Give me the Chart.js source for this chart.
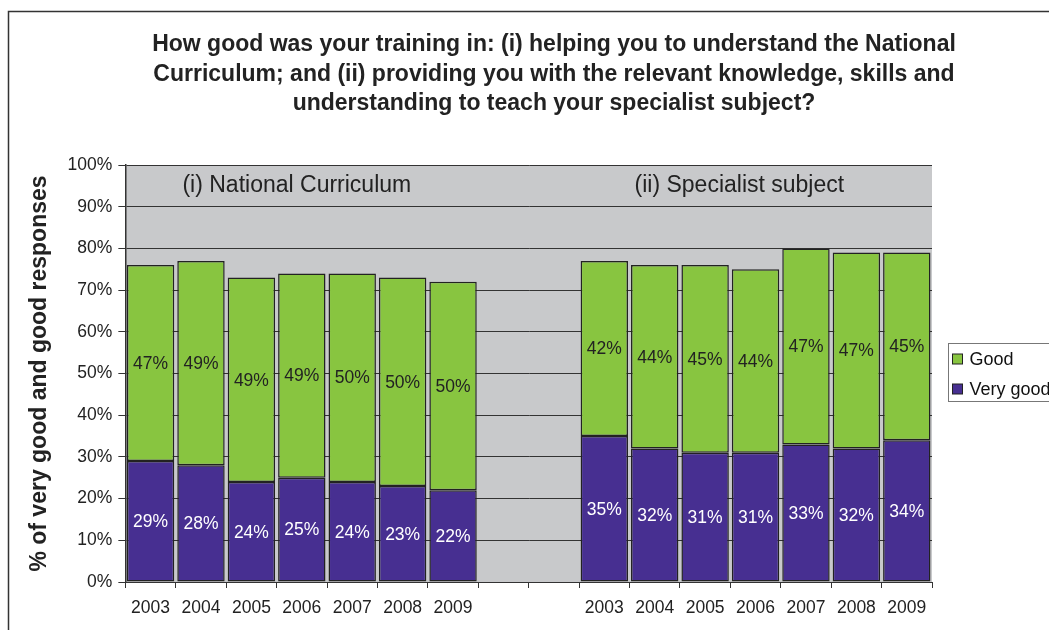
<!DOCTYPE html>
<html>
<head>
<meta charset="utf-8">
<script src="https://cdn.jsdelivr.net/npm/chart.js@4"></script>
<style>
  html, body { margin: 0; padding: 0; background: #fff; overflow: hidden; }
  #wrap { position: relative; width: 1110px; height: 630px; }
</style>
</head>
<body>
<div id="wrap"><canvas id="trainingChart"></canvas></div>
<script>
// data: 7 years per group, two empty slots as a spacer
var years = ["2003", "2004", "2005", "2006", "2007", "2008", "2009", "", "",
             "2003", "2004", "2005", "2006", "2007", "2008", "2009"];
var veryGood = [29, 28, 24, 25, 24, 23, 22, null, null, 35, 32, 31, 31, 33, 32, 34];
var good     = [47, 49, 49, 49, 50, 50, 50, null, null, 42, 44, 45, 44, 47, 47, 45];
var yTicks = [0, 10, 20, 30, 40, 50, 60, 70, 80, 90, 100];
var groupNames = ["(i) National Curriculum", "(ii) Specialist subject"];
var titleLines = [
  "How good was your training in: (i) helping you to understand the National",
  "Curriculum; and (ii) providing you with the relevant knowledge, skills and",
  "understanding to teach your specialist subject?"
];

var FONT = "'Liberation Sans', Arial, sans-serif";
var PURPLE = '#472f91', GREEN = '#88c540';

// frame, title and grey plot background
var backdrop = {
  id: 'backdrop',
  beforeDraw: function(chart) {
    var c = chart.ctx, a = chart.chartArea;
    c.save();
    c.strokeStyle = '#333';
    c.lineWidth = 1.5;
    c.beginPath();
    c.moveTo(8.5, 640);
    c.lineTo(8.5, 11.5);
    c.lineTo(1200, 11.5);
    c.stroke();
    c.fillStyle = '#c8c9cb';
    c.fillRect(a.left, a.top, a.right - a.left, a.bottom - a.top);
    c.fillStyle = '#222';
    c.font = 'bold 23px ' + FONT;
    c.textAlign = 'center';
    c.textBaseline = 'middle';
    for (var i = 0; i < titleLines.length; i++) {
      c.fillText(titleLines[i], 554, 45 + i * 29.5);
    }
    c.restore();
  }
};

// value labels in each segment, group names, legend
var labels = {
  id: 'labels',
  afterDatasetsDraw: function(chart) {
    var c = chart.ctx;
    c.save();
    c.font = '17.5px ' + FONT;
    c.textAlign = 'center';
    c.textBaseline = 'middle';
    chart.data.datasets.forEach(function(ds, di) {
      var meta = chart.getDatasetMeta(di);
      c.fillStyle = di === 0 ? '#fff' : '#222';
      meta.data.forEach(function(bar, i) {
        if (ds.data[i] == null) return;
        var p = bar.getCenterPoint();
        c.fillText(ds.data[i] + '%', p.x, p.y + 1);
      });
    });
    var x = chart.scales.x, y = chart.scales.y;
    c.font = '23px ' + FONT;
    c.fillStyle = '#222';
    c.fillText(groupNames[0], x.getPixelForValue(3) - 5, y.getPixelForValue(95));
    c.fillText(groupNames[1], (x.getPixelForValue(11) + x.getPixelForValue(12)) / 2 + 9, y.getPixelForValue(95));
    c.restore();
  },
  afterDraw: function(chart) {
    var c = chart.ctx, a = chart.chartArea;
    var left = Math.round(a.right + 16) + 0.5;
    var mid = Math.round((a.top + a.bottom) / 2);
    var items = [
      { text: chart.data.datasets[1].label, color: GREEN },
      { text: chart.data.datasets[0].label, color: PURPLE }
    ];
    c.save();
    c.fillStyle = '#fff';
    c.fillRect(left, mid - 30, 200, 58);
    c.strokeStyle = '#777';
    c.lineWidth = 1;
    c.strokeRect(left, mid - 30.5, 200, 58);
    c.font = '18px ' + FONT;
    c.textBaseline = 'middle';
    c.textAlign = 'left';
    items.forEach(function(it, i) {
      var cy = mid - 15 + i * 30;
      c.fillStyle = it.color;
      c.fillRect(left + 4, cy - 5, 10, 10);
      c.strokeStyle = '#222';
      c.strokeRect(left + 4, cy - 5, 10, 10);
      c.fillStyle = '#111';
      c.fillText(it.text, left + 21, cy + 1);
    });
    c.restore();
  }
};

new Chart(document.getElementById('trainingChart'), {
  type: 'bar',
  data: {
    labels: years,
    datasets: [{
      label: 'Very good',
      data: veryGood,
      backgroundColor: PURPLE,
      borderColor: '#222',
      borderWidth: 1.5,
      borderSkipped: false,
      barPercentage: 0.94,
      categoryPercentage: 1
    }, {
      label: 'Good',
      data: good,
      backgroundColor: GREEN,
      borderColor: '#222',
      borderWidth: 1.5,
      borderSkipped: false,
      barPercentage: 0.94,
      categoryPercentage: 1
    }]
  },
  options: {
    responsive: true,
    maintainAspectRatio: false,
    animation: false,
    layout: { padding: { top: 165, left: 26, right: 178, bottom: 1 } },
    plugins: {
      title: { display: false },
      tooltip: { enabled: false },
      legend: { display: false }
    },
    scales: {
      x: {
        stacked: true,
        grid: { drawOnChartArea: false, drawTicks: true, tickLength: 6, color: '#333', offset: true },
        border: { color: '#333', width: 1 },
        ticks: { color: '#222', font: { family: FONT, size: 17.5 }, padding: 10, maxRotation: 0, autoSkip: false }
      },
      y: {
        stacked: true,
        min: 0,
        max: 100,
        afterBuildTicks: function(scale) {
          scale.ticks = yTicks.map(function(v) { return { value: v }; });
        },
        grid: { color: '#333', lineWidth: 1, tickLength: 7 },
        border: { color: '#333', width: 1.5 },
        ticks: {
          color: '#222',
          font: { family: FONT, size: 17.5 },
          padding: 6,
          callback: function(v) { return v + '%'; }
        },
        title: {
          display: true,
          text: '% of very good and good responses',
          color: '#222',
          font: { family: FONT, size: 23, weight: 'bold' },
          padding: { top: 0, bottom: 8 }
        }
      }
    }
  },
  plugins: [backdrop, labels]
});
</script>
</body>
</html>
